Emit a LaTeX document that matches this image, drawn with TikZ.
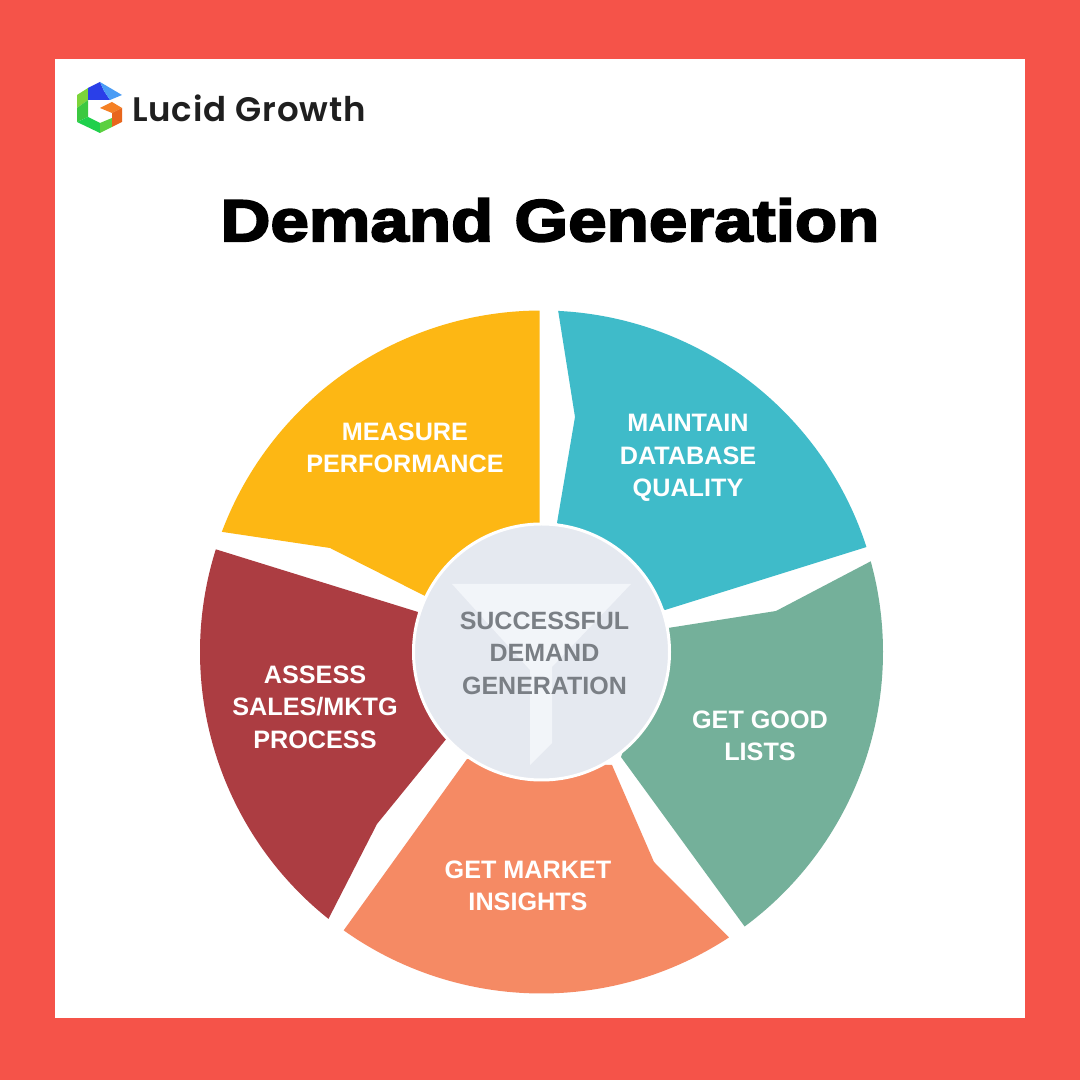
\documentclass[tikz,border=0pt]{standalone}
\usepackage{fontspec}
\setmainfont{Liberation Sans}
\newfontfamily\titlefont{Liberation Sans}[UprightFont=* Bold,FakeBold=3.4,FakeStretch=1.172,WordSpace=1.1]
\newfontfamily\logofont{Poppins}[UprightFont=* SemiBold,LetterSpace=2.5]
\usetikzlibrary{calc}
\definecolor{framered}{HTML}{F55349}
\definecolor{segyellow}{HTML}{FDB714}
\definecolor{segteal}{HTML}{3FBBC9}
\definecolor{seggreen}{HTML}{74B09A}
\definecolor{segorange}{HTML}{F58A64}
\definecolor{segred}{HTML}{AC3D42}
\definecolor{hubfill}{HTML}{E5E9F0}
\definecolor{funnelfill}{HTML}{F2F5F9}
\definecolor{hubtext}{HTML}{7A7F85}
\definecolor{logolime}{HTML}{7CD43A}
\definecolor{logogreen}{HTML}{3CC840}
\definecolor{logomint}{HTML}{1FD04C}
\definecolor{logoleaf}{HTML}{5CD040}
\definecolor{logoblue}{HTML}{2A3FE8}
\definecolor{logosky}{HTML}{4A9CF5}
\definecolor{logoorange}{HTML}{F58024}
\definecolor{logorust}{HTML}{E8661C}
\tikzset{
	seglabel/.style={text=white,font=\bfseries\fontsize{25.2}{32.5}\selectfont,align=center,inner sep=0pt},
	hublabel/.style={text=hubtext,font=\bfseries\fontsize{25}{32.5}\selectfont,align=center,inner sep=0pt},
}
\def\outerarc(#1:#2){($(541.5,428)+(#1:341.5)$) arc (#1:#2:341.5)}

\begin{document}
\begin{tikzpicture}[x=1pt,y=1pt]
	%%%%% FRAME %%%%%
	\useasboundingbox (0,0) rectangle (1080,1080);
	\fill[framered] (0,0) rectangle (1080,1080);
	\fill[white] (55,62) rectangle (1025,1021);

	%%%%% LOGO %%%%%
	\fill[logolime] (77,985) -- (88,992) -- (88,980) -- (77,972) -- cycle;
	\fill[logogreen] (77,972) -- (88,980) -- (88,963) -- (77,958) -- cycle;
	\fill[logomint] (77,958) -- (88,963) -- (100,957) -- (100,947) -- cycle;
	\fill[logoleaf] (100,947) -- (112,953) -- (112,962) -- (100,957) -- cycle;
	\fill[logoblue] (88,992) -- (100,998) -- (104,989) -- (110,980) -- (88,980) -- cycle;
	\fill[logosky] (100,998) -- (122,985) -- (110,980) -- (104,989) -- cycle;
	\fill[logoorange] (100,972) -- (112,978) -- (122,972) -- (112,967) -- cycle;
	\fill[logorust] (122,972) -- (122,958) -- (112,953) -- (112,967) -- cycle;
	\node[font=\logofont\fontsize{34}{34}\selectfont,text=black!88,anchor=west,inner sep=0pt] (logotext) at (132,971.5) {Lucid Growth};

	%%%%% TITLE %%%%%
	\node[font=\titlefont\fontsize{59}{59}\selectfont,inner sep=0pt] (title) at (550,860) {Demand Generation};

	%%%%% SEGMENTS %%%%%
	\fill[segyellow] \outerarc(159.4:90.3) -- (539.7,520) -- (427,483) -- (330,532) -- cycle;
	\fill[segteal] \outerarc(87.2:17.9) -- (665,470) -- (557,557) -- (575,663) -- cycle;
	\fill[seggreen] \outerarc(15.4:-53.5) -- (621,323) -- (668,452) -- (776,469) -- cycle;
	\fill[segorange] \outerarc(-56.7:-125.4) -- (467,321) -- (612,315) -- (654,218) -- cycle;
	\fill[segred] \outerarc(231.4:162.5) -- (418,468) -- (456,353) -- (377,256) -- cycle;

	%%%%% HUB %%%%%
	\fill[hubfill,draw=white,line width=3pt] (541.5,428) circle (128);
	\fill[funnelfill] (452,496) -- (631,496) -- (552,413) -- (552,337) -- (530,315) -- (530,410) -- cycle;

	%%%%% LABELS %%%%%
	\node[seglabel] (measure) at (405,632) {MEASURE\\PERFORMANCE};
	\node[seglabel] (maintain) at (688,622) {MAINTAIN\\DATABASE\\QUALITY};
	\node[seglabel] (lists) at (760,344) {GET GOOD\\LISTS};
	\node[seglabel] (insights) at (528,194) {GET MARKET\\INSIGHTS};
	\node[seglabel] (assess) at (315,373) {ASSESS\\SALES/MKTG\\PROCESS};
	\node[hublabel] (hub) at (544.5,427) {SUCCESSFUL\\DEMAND\\GENERATION};
\end{tikzpicture}
\end{document}
